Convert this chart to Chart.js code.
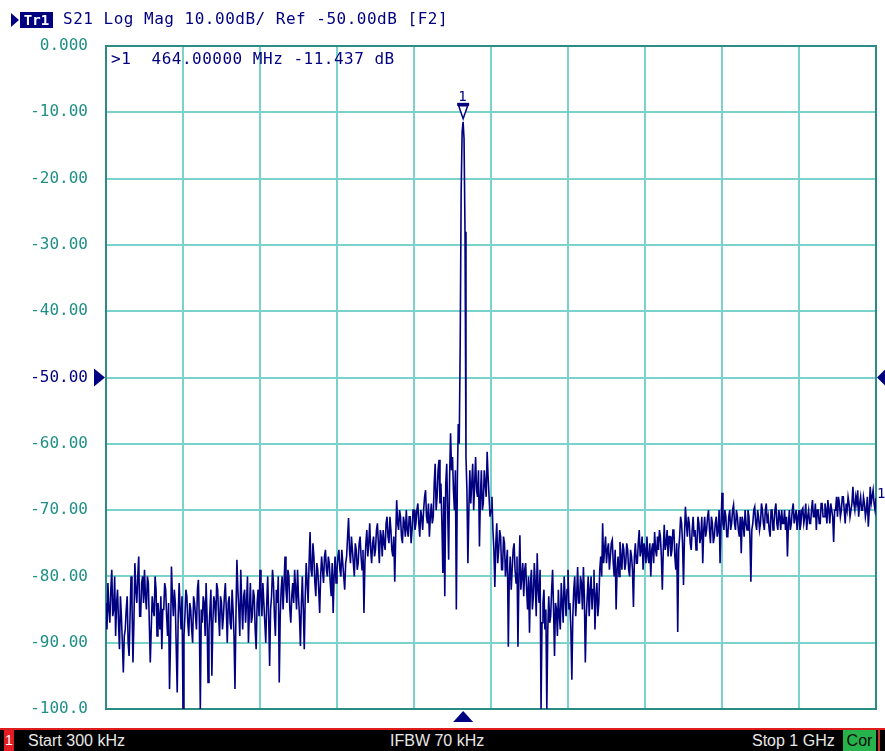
<!DOCTYPE html>
<html>
<head>
  <title>S21 Log Mag</title>
  <script src="https://cdn.jsdelivr.net/npm/chart.js"></script>
  <style>
    body { margin: 0; background: #fff; }
    #wrap { position: relative; width: 885px; height: 751px; overflow: hidden; background: #fff; }
    #plot { position: absolute; left: 0; top: 0; }
    .mono { font-family: 'DejaVu Sans Mono', monospace; font-size: 16px; color: #000080; letter-spacing: 0.5px; white-space: pre; position: absolute; }
    .bar { font-family: 'Liberation Sans', Arial, sans-serif; font-size: 16px; color: #e8e8e8; position: absolute; top: 730px; line-height: 21px; white-space: pre; }
  </style>
</head>
<body>
<div id="wrap">
  <canvas id="plot" width="885" height="751"></canvas>

  <!-- header line -->
  <div style="position:absolute;left:11px;top:13px;width:0;height:0;border-top:7px solid transparent;border-bottom:7px solid transparent;border-left:8px solid #000080"></div>
  <div style="position:absolute;left:20px;top:12px;width:33px;height:16px;background:#000080;color:#fff;font:bold 14px 'DejaVu Sans Mono',monospace;line-height:16px;text-align:center">Tr1</div>
  <div class="mono" style="left:63px;top:8px;line-height:22px">S21 Log Mag 10.00dB/ Ref -50.00dB [F2]</div>

  <!-- marker readout -->
  <div class="mono" style="left:111px;top:48px;line-height:22px">&gt;1  464.00000 MHz -11.437 dB</div>
  <div class="mono" id="mk1" style="line-height:14px;font-size:14px">1</div>
  <div class="mono" style="left:877px;top:485px;line-height:16px;font-size:14px">1</div>

  <!-- status bar -->
  <div style="position:absolute;left:0;top:728px;width:885px;height:2px;background:#e01c1c"></div>
  <div style="position:absolute;left:0;top:730px;width:885px;height:21px;background:#000"></div>
  <div class="bar" style="left:4px;width:10px;height:21px;background:#e31b23;color:#fff;text-align:center;font-size:14px">1</div>
  <div class="bar" style="left:28px">Start 300 kHz</div>
  <div class="bar" style="left:390px">IFBW 70 kHz</div>
  <div class="bar" style="left:752px">Stop 1 GHz</div>
  <div class="bar" style="left:843px;width:33px;height:21px;background:#27b34b;color:#0a0a0a;text-align:center">Cor</div>
  <div style="position:absolute;left:878px;top:730px;width:2px;height:21px;background:#c0392b"></div>
</div>

<script>
  // sweep: 801 points from start to stop
  const START_MHZ = 0.3;
  const STOP_MHZ = 1000;
  const N_POINTS = 801;
  const REF_DB = -50;
  const MARKER_MHZ = 464;
  const MARKER_DB = -11.437;

  // S21 trace values (dB), 20 points per row
  const s21dB = [
    -84, -88, -81, -85, -87, -82, -79, -86, -85, -80, -89, -84, -82, -87, -91, -83, -86, -90, -94.5, -89,
    -88, -85, -83, -90, -92, -86, -80, -84, -93, -87, -78, -82, -84, -80, -77, -86, -86, -81, -80, -84,
    -79, -83, -85, -80, -81, -87, -93, -88, -83, -85, -86, -80, -82, -89, -84, -86, -88, -83, -91, -85,
    -85, -81, -82, -86, -89, -84, -97, -90, -78.5, -83, -86, -82, -84, -91, -97.5, -86, -81, -85, -88, -83,
    -100, -89, -86, -82, -83, -87, -89, -84, -85, -88, -90, -83, -84, -86, -88, -82, -80.5, -87, -100, -85,
    -87, -83, -84, -89, -81, -86, -96, -88, -85, -82, -95, -87, -83, -84, -87, -81, -82, -86, -89, -83,
    -84, -88, -86, -83, -81, -85, -90, -84, -83, -87, -88, -82, -85, -89, -97, -86, -77.5, -82, -85, -89,
    -79, -84, -88, -83, -82, -87, -84, -80, -90, -85, -81, -87, -86, -82, -83, -88, -91, -84, -82, -86,
    -79, -83, -86, -81, -84, -87, -90, -84, -80, -86, -93.5, -85, -83, -79, -81, -86, -89, -82, -84, -80,
    -96, -86, -82, -80, -85, -81, -77, -82, -84, -79, -80, -85, -87, -83, -81, -84, -79, -82, -85, -79,
    -83, -86, -90.5, -84, -80, -85, -91, -83, -78, -81, -84, -78, -73.3, -79, -80, -75, -77, -81, -83, -78,
    -79, -82, -85.5, -80, -77, -79, -81, -77, -76, -79, -80, -77, -78, -81, -83, -78, -85.5, -80, -77, -81,
    -79, -77, -76, -79, -80, -76, -78, -80, -82, -78, -77, -74, -71.2, -76, -78, -74, -76, -78, -80, -75,
    -76, -79, -78, -75, -74, -77, -79, -76, -85.5, -78, -75, -73, -77, -75, -72, -76, -78, -75, -74, -77,
    -76, -73, -72, -75, -78, -73, -74, -77, -73, -75, -76, -72, -71, -74, -75, -71, -73, -76, -77, -74,
    -80.8, -74, -68.5, -72, -73, -70, -71, -74, -75, -71, -72, -74, -70, -73, -74, -71, -71, -75, -73, -70,
    -70, -73, -72, -70, -69, -72, -74, -70, -71, -73, -70, -68, -67, -71, -72, -69, -74, -71, -69, -72,
    -71, -66, -63, -70, -68, -64, -62.4, -69, -66, -72, -79.5, -68, -83, -66, -63, -70, -77.5, -65, -58.4, -64,
    -62, -67, -70, -64, -85, -66, -57, -60, -45, -22, -13, -11.437, -14, -28, -62, -67, -78, -70, -64, -69,
    -66, -63, -70, -66, -62, -67, -68, -64, -75.5, -68, -64, -70, -69, -64, -66, -68, -61.2, -65, -68, -71,
    -70, -68, -73, -76, -81.6, -75, -72, -78, -76, -73, -74, -79, -79, -74, -75, -80, -78, -76, -90.6, -80,
    -77, -82, -79, -76, -75, -79, -81, -77, -90.6, -80, -73.8, -82, -80, -78, -83, -79, -78, -82, -85, -80,
    -88.5, -81, -79, -85, -83, -78, -81, -86, -76.5, -82, -84, -79, -100, -87, -84, -82, -88, -85, -100, -88,
    -83, -87, -86, -82, -79, -85, -92, -84, -85, -89, -82, -86, -88, -81, -84, -87, -80, -83, -86, -82,
    -79, -85, -84, -88, -95.6, -86, -82, -80, -86, -83, -78.6, -84, -84, -80, -81, -85, -78.6, -83, -93, -86,
    -83, -80, -86, -82, -80, -85, -82, -79, -88, -83, -81, -86, -84, -79, -77, -80, -72, -78, -76, -74,
    -78, -76, -75, -79, -77, -75, -74.5, -78, -80, -76, -85, -79, -77, -80, -74.8, -77, -79, -75, -76, -79,
    -78, -75, -76, -79, -80, -76, -77, -79, -84.6, -77, -75, -78, -78, -75, -73, -77, -76, -74, -79, -75,
    -76, -78, -74, -77, -78, -75, -80, -76, -75, -78, -73.3, -76, -77, -74, -76, -73, -74, -77, -82, -76,
    -72.2, -76, -75, -73, -77, -74, -74, -77, -76, -73, -73, -77, -79, -75, -88.4, -76, -74, -71, -72, -75,
    -81.3, -74, -69.5, -72, -74, -71, -72, -75, -76, -73, -71, -74, -73, -76, -75, -71, -72, -75, -74, -71,
    -78, -73, -71, -74, -73, -71, -70, -73, -75, -71, -72, -75, -74, -72, -71, -74, -73, -70, -78, -72,
    -67.4, -72, -73, -70, -71, -74, -74, -71, -70, -73, -72, -70, -69.2, -72, -73, -70, -71, -73, -74, -71,
    -76.5, -71, -72, -74, -70, -72, -73, -70, -71, -74, -80.8, -73, -72, -70, -69.5, -72, -73, -70, -71, -73,
    -72, -69, -70, -72, -73, -70, -69, -72, -71, -73, -74, -70, -70, -73, -72, -70, -69, -72, -73, -70,
    -71, -73, -70, -72, -72, -70, -73, -71, -77, -72, -70, -73, -72, -70, -69, -72, -71, -70, -73, -71,
    -70, -73, -72, -70, -69.7, -72, -71, -69, -73, -71, -70, -72, -72, -70, -68.5, -71, -71, -69, -73, -70,
    -70, -72, -72, -69, -69, -71, -71, -69, -70, -72, -68.5, -70, -72, -69, -70, -71, -74.8, -70, -70, -68,
    -71, -68, -69, -71, -70, -68, -68, -70, -72, -69, -70, -68, -69, -71, -71, -69, -66.5, -69, -70, -68,
    -69, -67, -71, -69, -68, -70, -70, -68, -69, -71, -70, -68, -72.5, -70, -66.5, -69, -68, -67, -69, -70,
    -68.2
  ];

  const stepMHz = (STOP_MHZ - START_MHZ) / (N_POINTS - 1);
  const freqMHz = s21dB.map((v, i) => START_MHZ + i * stepMHz);

  const NAVY = '#000080';
  const GRID = '#7ad2cc';
  const FRAME = '#2b8c84';

  // frame + the little triangles a VNA draws
  const vnaDecor = {
    id: 'vnaDecor',
    beforeDatasetsDraw(chart) {
      const { ctx, chartArea: a } = chart;
      ctx.save();
      ctx.strokeStyle = FRAME;
      ctx.lineWidth = 2;
      ctx.strokeRect(a.left, a.top, a.right - a.left, a.bottom - a.top);
      ctx.restore();
    },
    afterDatasetsDraw(chart) {
      const { ctx, chartArea: a, scales } = chart;
      const yRef = scales.y.getPixelForValue(REF_DB);
      const mx = scales.x.getPixelForValue(MARKER_MHZ);
      const my = scales.y.getPixelForValue(MARKER_DB);
      ctx.save();
      ctx.fillStyle = NAVY;
      // reference level arrows
      ctx.beginPath();
      ctx.moveTo(a.left - 12, yRef - 9); ctx.lineTo(a.left - 1, yRef); ctx.lineTo(a.left - 12, yRef + 9);
      ctx.closePath(); ctx.fill();
      ctx.beginPath();
      ctx.moveTo(a.right + 10, yRef - 9); ctx.lineTo(a.right + 1, yRef); ctx.lineTo(a.right + 10, yRef + 9);
      ctx.closePath(); ctx.fill();
      // marker position arrow under the grid
      ctx.beginPath();
      ctx.moveTo(mx - 10, a.bottom + 13); ctx.lineTo(mx, a.bottom + 2); ctx.lineTo(mx + 10, a.bottom + 13);
      ctx.closePath(); ctx.fill();
      // marker 1 on the trace
      ctx.fillRect(mx - 6, my - 19, 12, 3);
      ctx.beginPath();
      ctx.moveTo(mx - 4.5, my - 16); ctx.lineTo(mx + 4.5, my - 16); ctx.lineTo(mx, my - 3);
      ctx.closePath();
      ctx.fillStyle = '#fff'; ctx.fill();
      ctx.strokeStyle = NAVY; ctx.lineWidth = 1.5; ctx.stroke();
      ctx.restore();

      const lab = document.getElementById('mk1');
      lab.style.left = (mx - 5) + 'px';
      lab.style.top = (my - 33) + 'px';
    }
  };

  const chart = new Chart(document.getElementById('plot'), {
    type: 'line',
    data: {
      datasets: [{
        label: 'S21',
        data: s21dB.map((v, i) => ({ x: freqMHz[i], y: v })),
        borderColor: NAVY,
        borderWidth: 1.6,
        pointRadius: 0,
        tension: 0,
        fill: false
      }]
    },
    options: {
      responsive: false,
      animation: false,
      layout: { padding: { top: 46, right: 9, bottom: 42, left: 0 } },
      plugins: { legend: { display: false }, tooltip: { enabled: false } },
      scales: {
        x: {
          type: 'linear',
          min: START_MHZ,
          max: STOP_MHZ,
          afterBuildTicks: s => {
            s.ticks = [];
            for (let k = 0; k <= 10; k++) s.ticks.push({ value: START_MHZ + k * (STOP_MHZ - START_MHZ) / 10 });
          },
          ticks: { display: false },
          grid: { color: GRID, lineWidth: 2, drawTicks: false },
          border: { display: false }
        },
        y: {
          min: -100,
          max: 0,
          afterFit: s => { s.width = 106; },
          ticks: {
            stepSize: 10,
            padding: 18,
            callback: v => Number(v).toPrecision(4),
            color: c => (c.tick && c.tick.value === REF_DB) ? NAVY : '#1f8f86',
            font: { family: 'DejaVu Sans Mono', size: 16 }
          },
          grid: { color: GRID, lineWidth: 2, drawTicks: false },
          border: { display: false }
        }
      }
    },
    plugins: [vnaDecor]
  });
</script>
</body>
</html>
